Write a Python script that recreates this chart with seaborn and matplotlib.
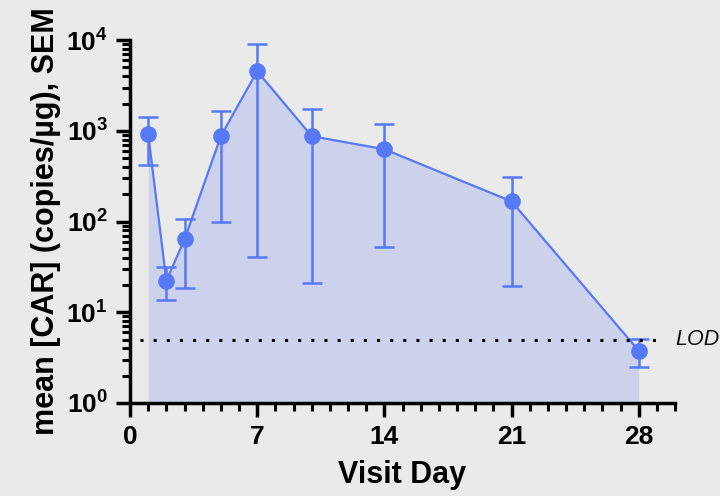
import numpy as np
import pandas as pd
import matplotlib
matplotlib.use("Agg")
import matplotlib.pyplot as plt
import seaborn as sns
from matplotlib.ticker import LogLocator, MultipleLocator, NullFormatter

# ================= DATA =================
days = [1, 2, 3, 5, 7, 10, 14, 21, 28]
mean_car = [920, 22.3, 63.5, 875, 4550, 875, 627, 167, 3.77]
sem_upper = [1420, 31.8, 108, 1650, 9100, 1740, 1186, 312, 5.03]
sem_lower = [420, 13.6, 18.4, 99.5, 41, 21.2, 52.4, 19.6, 2.51]
LOD = 5.0

x_ticks = [0, 7, 14, 21, 28]

LINE_COLOR = "#5779F6"
FILL_COLOR = "#CDD2EC"
BG = "#EAEAEA"

df = pd.DataFrame({"day": days, "mean": mean_car})

# ================= STYLE =================
sns.set_style("ticks")
plt.rcParams["font.family"] = ["Liberation Sans", "DejaVu Sans"]
plt.rcParams["font.weight"] = "bold"
plt.rcParams["text.color"] = "black"
plt.rcParams["axes.labelcolor"] = "black"
plt.rcParams["xtick.color"] = "black"
plt.rcParams["ytick.color"] = "black"

fig = plt.figure(figsize=(7.2, 4.96), dpi=100, facecolor=BG)
ax = fig.add_axes([0.1806, 0.1875, 0.757, 0.7315])
ax.set_facecolor(BG)

# ================= PLOT =================
ax.fill_between(df["day"], df["mean"], 1, color=FILL_COLOR, lw=0, zorder=1)

yerr = np.array([
    np.array(mean_car) - np.array(sem_lower),
    np.array(sem_upper) - np.array(mean_car),
])
ax.errorbar(days, mean_car, yerr=yerr, fmt="none", ecolor=LINE_COLOR,
            elinewidth=1.8, capsize=7, capthick=1.8, zorder=2)

sns.lineplot(data=df, x="day", y="mean", ax=ax, color=LINE_COLOR, lw=1.6,
             marker="o", markersize=12, markeredgewidth=0, zorder=3)

ax.plot([0.55, 29.4], [LOD, LOD], ls=(0, (1, 3.3)), color="black", lw=2.2,
        zorder=4, clip_on=False)
ax.text(30.0, LOD, "LOD", style="italic", fontweight="normal", fontsize=15.5,
        va="center", ha="left", color="#111111")

# ================= AXES =================
ax.set_yscale("log")
ax.set_ylim(1, 1e4)
ax.set_xlim(0, 30)
ax.set_xticks(x_ticks)
ax.xaxis.set_minor_locator(MultipleLocator(1))
ax.yaxis.set_major_locator(LogLocator(base=10, numticks=10))
ax.yaxis.set_minor_locator(LogLocator(base=10, subs=np.arange(2, 10), numticks=10))
ax.yaxis.set_minor_formatter(NullFormatter())

for s in ["top", "right"]:
    ax.spines[s].set_visible(False)
for s in ["left", "bottom"]:
    ax.spines[s].set_color("black")
    ax.spines[s].set_linewidth(2.5)

ax.tick_params(axis="both", which="major", length=10, width=2.5, color="black",
               labelsize=19, pad=6)
ax.tick_params(axis="both", which="minor", length=6, width=2.2, color="black")
for lbl in ax.get_xticklabels() + ax.get_yticklabels():
    lbl.set_fontweight("bold")

ax.set_xlabel("Visit Day", fontsize=22, fontweight="bold", labelpad=8)
ax.set_ylabel("mean [CAR] (copies/\u00b5g), SEM", fontsize=22, fontweight="bold", labelpad=4)

fig.savefig("out.png", dpi=100, facecolor=BG)
